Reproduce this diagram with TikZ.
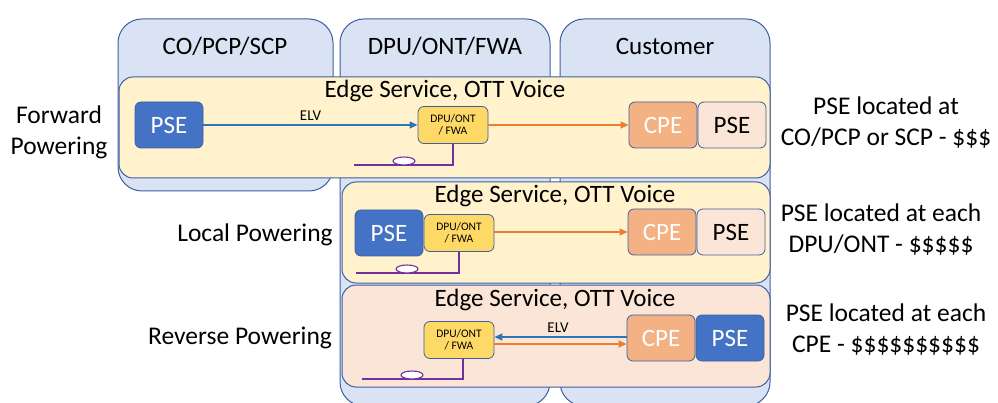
\documentclass[tikz,border=0pt]{standalone}
\usepackage{fontspec}
\setmainfont{Carlito}
\usepackage{tikz}
\usepackage{xcolor}
\usetikzlibrary{shapes.geometric}
\usetikzlibrary{arrows.meta}

\definecolor{colfill}{HTML}{DAE3F3}
\definecolor{edgeblue}{HTML}{3F5F9F}
\definecolor{bandyel}{HTML}{FFF2CC}
\definecolor{bandpch}{HTML}{FBE5D6}
\definecolor{psedark}{HTML}{4472C4}
\definecolor{dpuyel}{HTML}{FFD966}
\definecolor{cpeorg}{HTML}{F4B183}
\definecolor{elvblue}{HTML}{2E75B6}
\definecolor{lineorg}{HTML}{ED7D31}
\definecolor{fibpur}{HTML}{7030A0}

\tikzset{
  col/.style={draw=edgeblue, fill=colfill, line width=1pt, rounded corners=24pt},
  band/.style={draw=edgeblue, line width=1pt, rounded corners=14pt},
  unit/.style={draw=edgeblue, line width=.8pt, rounded corners=6pt, inner sep=0pt,
    minimum width=68pt, minimum height=46pt},
  psed/.style={unit, fill=psedark, text=white},
  psel/.style={unit, fill=bandpch},
  cpe/.style={unit, fill=cpeorg, text=white},
  dpu/.style={unit, fill=dpuyel, minimum width=70pt, minimum height=37pt,
    align=center, font=\fontsize{11.5}{12}\selectfont},
  elv/.style={draw=elvblue, line width=1.2pt},
  pwr/.style={draw=lineorg, line width=1.6pt},
  fib/.style={draw=fibpur, line width=1.1pt},
  loop/.style={ellipse, draw=fibpur, fill=white, line width=1.1pt, inner sep=0pt,
    minimum width=22pt, minimum height=8pt},
  lbl/.style={align=center, font=\fontsize{25.5}{31}\selectfont}
}

\begin{document}
\begin{tikzpicture}[x=1pt, y=-1pt, font=\fontsize{25}{30}\selectfont,
    >={Triangle[length=8pt,width=7pt]}]
  \useasboundingbox (0,0) rectangle (998,403);

  % columns
  \draw[col] (118,19) rectangle (333,191);
  \draw[col] (340,19) rectangle (550,406);
  \draw[col] (560,19) rectangle (770,406);
  \node (c1) at (225,46) {CO/PCP/SCP};
  \node (c2) at (445,46) {DPU/ONT/FWA};
  \node (c3) at (665,46) {Customer};

  % forward powering
  \draw[band, fill=bandyel] (119,77) rectangle (770,178);
  \path (445,91) node (tf) {Edge Service, OTT Voice};
  \path (169,125) node (pf) [psed] {PSE}
    ++(284,0) node (df) [dpu] {DPU/ONT\\/ FWA}
    ++(210,0) node (cf) [cpe] {CPE}
    ++(69,0) node (sf) [psel] {PSE};
  \draw[elv,->] (pf) -- node (ef) [above=1pt, font=\fontsize{15}{15}\selectfont] {ELV} (df);
  \draw[pwr,->] (df) -- (cf);
  \coordinate (ff) at (354,165);
  \draw[fib] (df.south) |- (ff);
  \node (lf) [loop] at (404,161) {};

  % local powering
  \draw[band, fill=bandyel] (342,182) rectangle (770,283);
  \path (555,196) node (tl) {Edge Service, OTT Voice};
  \path (389,233) node (pl) [psed] {PSE}
    ++(70,0) node (dl) [dpu] {DPU/ONT\\/ FWA}
    ++(203,-1) node (cl) [cpe] {CPE}
    ++(69,0) node (sl) [psel] {PSE};
  \draw[pwr,->] (dl.east |- cl) -- (cl);
  \coordinate (fl) at (356,273);
  \draw[fib] (dl.south) |- (fl);
  \node (ll) [loop] at (407,269) {};

  % reverse powering
  \draw[band, fill=bandpch] (342,285) rectangle (770,387);
  \path (555,300) node (tr) {Edge Service, OTT Voice};
  \path (459,340) node (dr) [dpu] {DPU/ONT\\/ FWA}
    ++(202,-2) node (cr) [cpe] {CPE}
    ++(69,0) node (sr) [psed] {PSE};
  \draw[elv,->] ([yshift=1pt]cr.west) -- ([yshift=3pt]dr.east);
  \draw[pwr,->] ([yshift=-4pt]dr.east) -- ([yshift=-6pt]cr.west);
  \node (er) [font=\fontsize{15}{15}\selectfont] at (558,328) {ELV};
  \coordinate (fr) at (362,379);
  \draw[fib] ([xshift=4pt]dr.south) |- (fr);
  \node (lr) [loop] at (412,375) {};

  % side labels
  \node (mf) [lbl] at (59,132) {Forward\\Powering};
  \node (ml) [lbl] at (255,235) {Local Powering};
  \node (mr) [lbl] at (240,338) {Reverse Powering};
  \node (nf) [lbl] at (886,123) {PSE located at\\CO/PCP or SCP - \$\$\$};
  \node (nl) [lbl] at (881,230) {PSE located at each\\DPU/ONT - \$\$\$\$\$};
  \node (nr) [lbl] at (886,330) {PSE located at each\\CPE - \$\$\$\$\$\$\$\$\$\$};
\end{tikzpicture}
\end{document}
